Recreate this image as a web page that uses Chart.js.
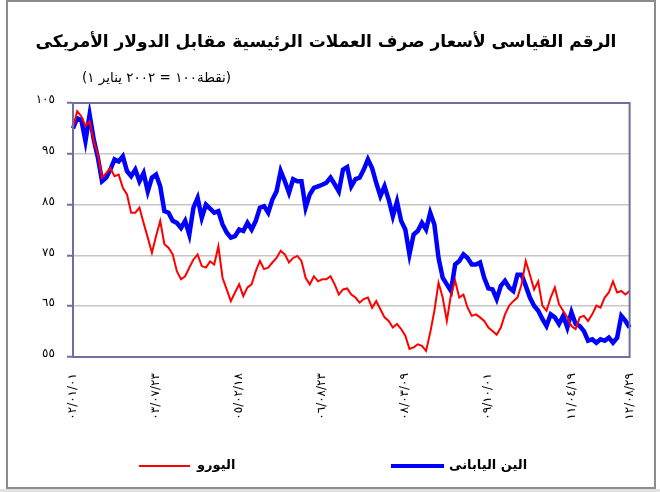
<!DOCTYPE html>
<html>
<head>
<meta charset="utf-8">
<script src="https://cdn.jsdelivr.net/npm/chart.js@4/dist/chart.umd.min.js"></script>
<style>
html, body { margin: 0; padding: 0; background: #fff; }
</style>
</head>
<body>
<canvas id="MyChart" width="660" height="492"></canvas>
<script>
// index points, 1 Jan 2002 = 100
var euro = [100, 103.4, 102.4, 100.5, 101.4, 97.5, 94.8, 90.3, 91.2, 92.2,
	90.6, 90.9, 88.3, 87, 83.4, 83.4, 84.4, 81.4, 78.5, 75.5,
	78.8, 81.8, 77.2, 76.5, 75.2, 71.9, 70.3, 70.9, 72.6, 74.2,
	75.2, 72.9, 72.6, 73.8, 73.2, 76.8, 70.6, 68.3, 66, 67.7,
	69.3, 67, 68.7, 69.3, 71.9, 73.9, 72.3, 72.6, 73.6, 74.5,
	75.9, 75.2, 73.6, 74.5, 74.9, 73.9, 70.6, 69.3, 70.9, 69.9,
	70.3, 70.3, 70.9, 69.3, 67.3, 68.3, 68.5, 67.3, 66.7, 65.7,
	66.4, 66.7, 64.7, 66, 64.4, 62.8, 62.1, 60.8, 61.5, 60.5,
	59.2, 56.6, 56.9, 57.5, 57.2, 56.2, 59.8, 64.1, 69.6, 66.7,
	62.1, 67.3, 70, 66.7, 67.3, 64.7, 63.1, 63.4, 62.8, 62.1,
	60.8, 60.1, 59.4, 60.8, 63.4, 65.1, 66, 66.7, 69.3, 73.9,
	71.2, 68.3, 69.9, 65.1, 64.1, 66.7, 68.7, 65.4, 64.1, 62.8,
	61.1, 60.5, 62.8, 63.1, 62.1, 63.4, 65.1, 64.7, 66.7, 67.7,
	69.9, 67.7, 68, 67.3, 68];
var yen = [100, 102, 101.7, 97.5, 102.7, 97.8, 94.2, 89.6, 90.3, 91.9,
	93.9, 93.5, 94.5, 91.6, 90.6, 91.9, 89.6, 91.2, 87.6, 90.3,
	90.9, 88.6, 83.7, 83.4, 81.8, 81.4, 80.4, 81.8, 79.1, 84.4,
	86.3, 82.4, 85, 84.2, 83.4, 83.7, 81.1, 79.5, 78.5, 78.8,
	80.1, 79.8, 81.4, 80.1, 81.8, 84.4, 84.7, 83.4, 86, 87.6,
	91.6, 89.6, 87.3, 90, 89.6, 89.6, 84.4, 87, 88.3, 88.6,
	88.9, 89.3, 90.3, 89, 87.6, 91.9, 92.4, 88.6, 90, 90.3,
	91.9, 93.9, 92.2, 89.3, 86.7, 88.6, 86, 82.7, 85.6, 81.8,
	80.1, 75.2, 79.1, 79.8, 81.4, 80.1, 83.4, 81.1, 74.5, 70.6,
	69.3, 68, 73.2, 73.9, 75.2, 74.5, 73.2, 73.2, 73.6, 70.6,
	68.5, 68.3, 66.4, 69, 70, 68.7, 68, 71.2, 71.2, 69,
	66.7, 65.1, 64.1, 62.5, 61.1, 63.4, 62.8, 61.5, 63.1, 60.8,
	63.8, 61.5, 61.1, 60.1, 58.2, 58.5, 57.8, 58.5, 58.2, 58.8,
	57.8, 58.8, 63.1, 62.1, 60.8];
var tickLabels = ['٠٢/٠١/٠١', '٠٣/٠٧/٢٣', '٠٥/٠٢/١٨', '٠٦/٠٨/٢٣', '٠٨/٠٣/٠٩', '٠٩/١٠/٠١', '١١/٠٤/١٩', '١٢/٠٨/٢٩'];
var tickIdx = [0, 20, 40, 60, 80, 100, 120, 134];
var yTicks = [55, 65, 75, 85, 95, 105];
var seriesNames = ['اليورو', 'الين اليابانى'];
// subtitle pieces in the order they appear, left to right
var subtitleParts = ['(', '١', ' ', 'يناير', ' ', '٢٠٠٢', ' = ', '١٠٠', 'نقطة', ')'];

var categories = [];
for (var i = 0; i < euro.length; i++) categories.push(i);

function arabicDigits(s) {
	return String(s).replace(/[0-9]/g, function(d) { return '٠١٢٣٤٥٦٧٨٩'[d]; });
}

var frameColor = '#6f6f9f';
var arFont = '"DejaVu Sans", sans-serif';

var decor = {
	id: 'decor',
	beforeDraw: function(chart) {
		var c = chart.ctx;
		c.save();
		c.fillStyle = '#fff';
		c.fillRect(0, 0, 660, 492);
		c.fillStyle = '#e2e2e2';
		c.fillRect(0, 489, 660, 3);
		c.strokeStyle = '#8c8c8c';
		c.lineWidth = 2;
		c.strokeRect(7, 1, 648, 487);
		c.restore();
	},
	afterDraw: function(chart) {
		var c = chart.ctx, a = chart.chartArea;
		c.save();
		c.direction = 'ltr';
		c.strokeStyle = frameColor;
		c.lineWidth = 2;
		c.strokeRect(a.left, a.top, a.right - a.left, a.bottom - a.top);

		c.fillStyle = '#000';
		c.textBaseline = 'middle';
		c.textAlign = 'center';
		c.font = 'bold 17px ' + arFont;
		c.fillText('الرقم القياسى لأسعار صرف العملات الرئيسية مقابل الدولار الأمريكى', 326, 43);

		c.font = '13.5px ' + arFont;
		c.textAlign = 'left';
		var x = 82;
		subtitleParts.forEach(function(p) {
			c.fillText(p, x, 78);
			x += c.measureText(p).width;
		});

		// legend
		c.font = 'bold 13px ' + arFont;
		c.strokeStyle = '#ff0000';
		c.lineWidth = 2;
		c.beginPath(); c.moveTo(139, 466); c.lineTo(190, 466); c.stroke();
		c.fillText(seriesNames[0], 197, 466);
		c.strokeStyle = '#0000ff';
		c.lineWidth = 4;
		c.beginPath(); c.moveTo(391, 466); c.lineTo(444, 466); c.stroke();
		c.fillText(seriesNames[1], 449, 466);
		c.restore();
	}
};

var ctx = document.getElementById('MyChart').getContext('2d');
var chart = new Chart(ctx, {
	type: 'line',
	data: {
		labels: categories,
		datasets: [{
			label: seriesNames[0],
			data: euro,
			borderColor: '#ff0000',
			borderWidth: 2,
			pointRadius: 0,
			tension: 0
		}, {
			label: seriesNames[1],
			data: yen,
			borderColor: '#0000ff',
			borderWidth: 4.5,
			pointRadius: 0,
			tension: 0
		}]
	},
	options: {
		responsive: false,
		animation: false,
		layout: { padding: { left: 0, top: 103, right: 24, bottom: 0 } },
		plugins: {
			legend: { display: false },
			title: { display: false },
			tooltip: { enabled: false }
		},
		scales: {
			x: {
				grid: { display: false, drawTicks: false },
				border: { color: frameColor, width: 2 },
				ticks: {
					autoSkip: false,
					maxRotation: 90,
					minRotation: 90,
					padding: 16,
					color: '#000',
					font: { family: arFont, size: 12 },
					callback: function(v, i) {
						var k = tickIdx.indexOf(i);
						return k < 0 ? null : tickLabels[k];
					}
				},
				afterFit: function(s) { s.height = 135; }
			},
			y: {
				min: 55,
				max: 105,
				afterBuildTicks: function(s) {
					s.ticks = yTicks.map(function(v) { return { value: v }; });
				},
				grid: { color: '#c6c6c6', lineWidth: 1.5, tickColor: frameColor, tickLength: 6, tickWidth: 2 },
				border: { color: frameColor, width: 2 },
				ticks: {
					padding: 12,
					labelOffset: -3,
					color: '#000',
					font: { family: arFont, size: 12 },
					callback: function(v) { return arabicDigits(v); }
				},
				afterFit: function(s) { s.width = 73; }
			}
		}
	},
	plugins: [decor]
});
</script>
</body>
</html>
